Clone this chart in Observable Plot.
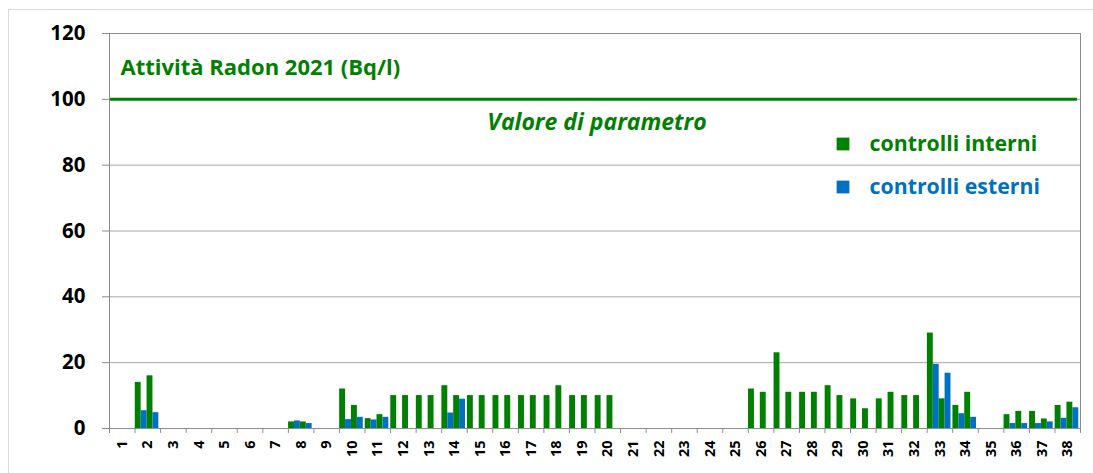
<!DOCTYPE html>
<html><head><meta charset="utf-8">
<script src="https://cdn.jsdelivr.net/npm/d3@7"></script>
<script src="https://cdn.jsdelivr.net/npm/@observablehq/plot@0.6"></script>
<style>
html,body{margin:0;padding:0;background:#fff;overflow:hidden;width:1093px;height:473px}
#wrap{position:relative;width:1093px;height:473px}
#border{position:absolute;left:8px;top:9px;width:1100px;height:500px;border:1px solid #d9d9d9;box-sizing:border-box}
#chart{position:absolute;left:0;top:0}
</style></head><body>
<div id="wrap"><div id="border"></div><div id="chart"></div></div>
<script>
// Categories (punti di controllo) 1..38, each with two measurement slots
const categories = ["1","2","3","4","5","6","7","8","9","10","11","12","13","14","15","16","17","18","19","20","21","22","23","24","25","26","27","28","29","30","31","32","33","34","35","36","37","38"];
// first slot: controlli interni / controlli esterni
const interni1 = [null,14,null,null,null,null,null,2,null,12,3,10,10,13,10,10,10,10,10,10,null,null,null,null,null,12,23,11,13,9,9,10,29,7,null,4.2,5.2,7];
const esterni1 = [null,5.4,null,null,null,null,null,2.3,null,2.7,2.6,null,null,4.7,null,null,null,null,null,null,null,null,null,null,null,null,null,null,null,null,null,null,19.5,4.5,null,1.5,1.5,3.1];
// second slot
const interni2 = [null,16,null,null,null,null,null,2,null,7,4.2,10,10,10,10,10,10,13,10,10,null,null,null,null,null,11,11,11,10,6,11,10,9,11,null,5.2,2.9,8];
const esterni2 = [null,4.8,null,null,null,null,null,1.5,null,3.4,3.4,null,null,8.9,null,null,null,null,null,null,null,null,null,null,null,null,null,null,null,null,null,null,16.8,3.4,null,1.5,2.0,6.3];
const yTicks = [0,20,40,60,80,100,120];
const parametro = 100;
const title = "Attività Radon 2021 (Bq/l)";
const parametroLabel = "Valore di parametro";
const seriesNames = ["controlli interni","controlli esterni"];
const colors = ["#008000","#0070C0"];

const W = 1093, H = 473, mL = 109, mR = 13, mT = 33, mB = 45;
const bw = (W - mL - mR) / categories.length;
const barW = 5.9, off = 0.2;
const slots = [
  {vals: interni1, s: 0},
  {vals: esterni1, s: 1},
  {vals: interni2, s: 0},
  {vals: esterni2, s: 1}
];
const barMarks = slots.map((sl, k) => {
  const rows = categories.map((c, i) => ({cat: c, value: sl.vals[i], series: seriesNames[sl.s]})).filter(d => d.value != null);
  return Plot.barY(rows, {
    x: "cat", y: "value", fill: colors[sl.s],
    insetLeft: off + k * barW,
    insetRight: bw - off - (k + 1) * barW
  });
});
const font = "'Open Sans', Lato, sans-serif";
const legend = seriesNames.map((name, i) => [
  Plot.dot([name], {frameAnchor: "top-left", dx: 733.5, dy: 110.5 + i * 43, symbol: "square", r: 7.2, fill: colors[i], stroke: null}),
  Plot.text([name], {frameAnchor: "top-left", dx: 760, dy: 111 + i * 42.5, text: d => d, textAnchor: "start", lineAnchor: "middle", fill: colors[i], fontSize: 21.3, fontWeight: "bold", fontFamily: font})
]).flat();

const chart = Plot.plot({
  width: W, height: H,
  marginLeft: mL, marginRight: mR, marginTop: mT, marginBottom: mB,
  style: {background: "transparent", fontFamily: font, color: "#000", overflow: "visible"},
  x: {domain: categories, padding: 0, round: false, axis: null},
  y: {domain: [0, 120], axis: null},
  marks: [
    Plot.gridY(yTicks, {stroke: "#a6a6a6", strokeOpacity: 1}),
    ...barMarks,
    Plot.ruleY([parametro], {stroke: colors[0], strokeWidth: 3, insetRight: 3}),
    Plot.frame({stroke: "#8c8c8c"}),
    Plot.axisY(yTicks, {tickSize: 7, tickPadding: 17, stroke: "#8c8c8c", fill: "#000", fontSize: 20.5, fontWeight: "bold", label: null, fontFamily: font}),
    Plot.ruleX(categories, {x: d => d, dx: -bw / 2, y1: 0, y2: -1.5, stroke: "#8c8c8c"}),
    Plot.ruleX([categories[categories.length - 1]], {x: d => d, dx: bw / 2, y1: 0, y2: -1.5, stroke: "#8c8c8c"}),
    Plot.text(categories, {x: d => d, y: 0, dy: 12, rotate: -90, text: d => d, textAnchor: "end", lineAnchor: "middle", fontSize: 14.5, fontWeight: "bold", fill: "#000", fontFamily: font}),
    Plot.text([title], {frameAnchor: "top-left", dx: 11, dy: 34, text: d => d, textAnchor: "start", lineAnchor: "middle", fill: colors[0], fontSize: 22, fontWeight: "bold", fontFamily: font}),
    Plot.text([parametroLabel], {frameAnchor: "top-left", dx: 487.5, dy: 89, text: d => d, textAnchor: "middle", lineAnchor: "middle", fill: colors[0], fontSize: 23, fontWeight: "bold", fontStyle: "italic", fontFamily: font}),
    ...legend
  ]
});
document.getElementById("chart").appendChild(chart);
</script>
</body></html>
